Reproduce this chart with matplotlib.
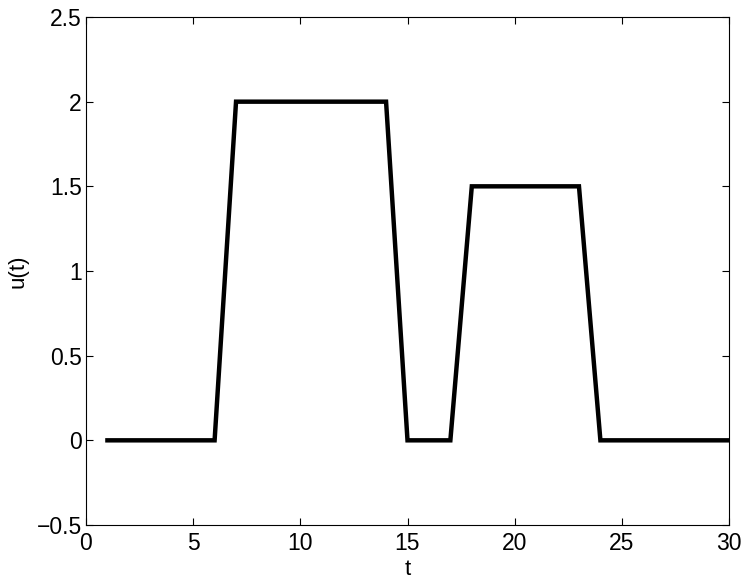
import matplotlib
matplotlib.use("Agg")
import matplotlib.pyplot as plt

t = list(range(1, 31))
u = [0, 0, 0, 0, 0, 0,
     2, 2, 2, 2, 2, 2, 2, 2,
     0, 0, 0,
     1.5, 1.5, 1.5, 1.5, 1.5, 1.5,
     0, 0, 0, 0, 0, 0, 0]
xticks = [0, 5, 10, 15, 20, 25, 30]
yticks = [-0.5, 0, 0.5, 1, 1.5, 2, 2.5]
yticklabels = ["\u22120.5", "0", "0.5", "1", "1.5", "2", "2.5"]

plt.rcParams['font.family'] = ['Liberation Sans', 'DejaVu Sans']
fig = plt.figure(figsize=(7.47, 5.83), dpi=100)
ax = fig.add_axes([86/747, 1-525/583, (729-86)/747, (525-17)/583])
ax.plot(t, u, color='black', linewidth=3.2, solid_joinstyle='miter')
ax.set_xlim(0, 30)
ax.set_ylim(-0.5, 2.5)
ax.set_xticks(xticks)
ax.set_xticklabels([str(v) for v in xticks])
ax.set_yticks(yticks)
ax.set_yticklabels(yticklabels)
ax.tick_params(direction='in', top=True, right=True, length=5, width=0.8,
               labelsize=16.5, colors='black')
ax.tick_params(axis='x', pad=5)
ax.tick_params(axis='y', pad=3)
for s in ax.spines.values():
    s.set_linewidth(0.8)
ax.set_xlabel('t', fontsize=16, labelpad=3)
ax.set_ylabel('u(t)', fontsize=16, labelpad=6)
fig.savefig('out.png', dpi=100)
